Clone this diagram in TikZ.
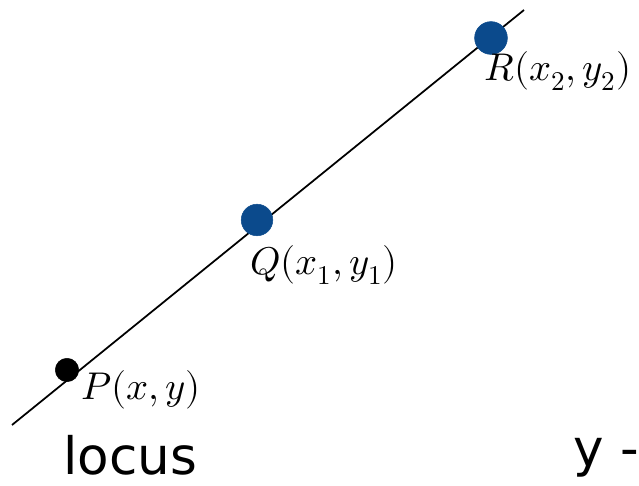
\documentclass[tikz,border=0pt]{standalone}
\usepackage{fontspec}
\usepackage{unicode-math}
\setmathfont{Latin Modern Math}
\newfontfamily\handfont{DejaVu Sans}
\definecolor{inkblue}{HTML}{0B4A8C}
\tikzset{
  dot/.style={circle,fill=#1,draw=#1,inner sep=0pt},
  ptlabel/.style={font=\fontsize{33}{35}\selectfont,inner sep=0pt},
  hand/.style={font=\handfont\fontsize{44}{46}\selectfont,inner sep=0pt}
}
\begin{document}
\begin{tikzpicture}[x=0.03cm,y=-0.03cm]
\useasboundingbox (0,0) rectangle (639,486);
\coordinate (lo) at (12,425);
\coordinate (hi) at (524,10);
\draw[line width=1.5pt] (lo) -- (hi);
\node[dot=black,minimum size=20pt] (p) at (67,370) {};
\node[dot=inkblue,minimum size=27pt] (q) at (257,220) {};
\node[dot=inkblue,minimum size=28pt] (r) at (491,38) {};
\node[ptlabel,anchor=west] (plab) at (81,390) {$P(x,y)$};
\node[ptlabel,anchor=west] (qlab) at (250,265) {$Q(x_1,y_1)$};
\node[ptlabel,anchor=west] (rlab) at (484,71) {$R(x_2,y_2)$};
\node[hand,anchor=base west] (locus) at (63,474) {locus};
\node[hand,anchor=base west] (ytxt) at (573,466) {y -};
\end{tikzpicture}
\end{document}
